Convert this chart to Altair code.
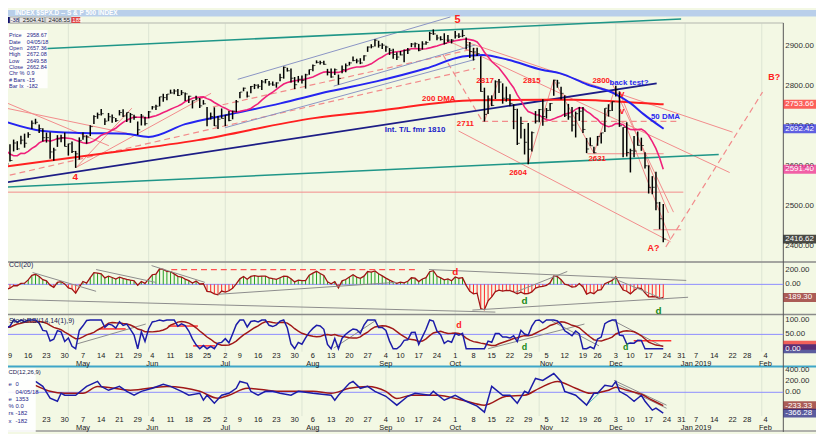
import altair as alt
import numpy as np
import pandas as pd

# ---------------- daily S&P 500 values (Feb 2018 .. 21 Dec 2018) ----------------
FEB_C = [2821.98, 2762.13, 2648.94, 2695.14, 2681.66, 2581.00, 2619.55, 2656.00, 2662.94, 2698.63, 2731.20, 2732.22, 2716.26, 2701.33, 2703.96, 2747.30, 2779.60, 2744.28, 2713.83]
FEB_H = [2837.75, 2808.92, 2763.39, 2701.04, 2727.67, 2685.27, 2638.67, 2672.61, 2668.84, 2702.10, 2731.51, 2754.42, 2739.14, 2747.75, 2731.26, 2747.76, 2780.64, 2789.15, 2761.52]
FEB_L = [2811.79, 2759.97, 2638.17, 2593.07, 2681.33, 2580.56, 2532.69, 2622.45, 2637.08, 2648.87, 2689.82, 2725.11, 2709.54, 2701.29, 2697.77, 2713.74, 2753.78, 2742.10, 2713.54]
MAR_C = [2677.67, 2691.25, 2720.94, 2728.12, 2726.80, 2738.97, 2786.57, 2783.02, 2765.31, 2749.48, 2747.33, 2752.01, 2712.92, 2716.94, 2711.93, 2643.69, 2588.26, 2658.55, 2612.62, 2605.00, 2640.87]
MAR_H = [2730.89, 2694.97, 2728.09, 2732.08, 2727.67, 2740.45, 2786.57, 2796.98, 2801.90, 2777.11, 2763.03, 2761.85, 2741.38, 2724.22, 2739.14, 2695.68, 2650.88, 2661.36, 2674.78, 2632.65, 2659.07]
MAR_L = [2659.65, 2647.49, 2675.75, 2711.26, 2701.02, 2722.65, 2751.54, 2779.26, 2758.68, 2744.38, 2741.47, 2749.97, 2694.59, 2710.05, 2709.79, 2641.59, 2585.89, 2601.81, 2596.12, 2593.06, 2609.72]
APR_C = [2581.88, 2614.45, 2644.69, 2662.84, 2604.47, 2613.16, 2656.87, 2642.19, 2663.99, 2656.30, 2677.84, 2706.39, 2708.64, 2693.13, 2670.14, 2670.29, 2634.56, 2639.40, 2666.94, 2669.91, 2648.05]
APR_H = [2638.30, 2619.14, 2649.86, 2672.08, 2656.88, 2653.55, 2665.45, 2661.43, 2674.72, 2680.26, 2683.55, 2713.34, 2717.49, 2702.84, 2693.94, 2682.86, 2683.55, 2645.30, 2676.48, 2677.35, 2682.92]
APR_L = [2553.80, 2575.49, 2573.61, 2649.58, 2586.27, 2610.79, 2635.78, 2639.25, 2653.83, 2645.05, 2670.01, 2692.05, 2703.63, 2681.90, 2660.61, 2657.99, 2617.32, 2612.67, 2647.16, 2659.01, 2648.04]
MAY_C = [2654.80, 2635.67, 2629.73, 2663.42, 2672.63, 2671.92, 2697.79, 2723.07, 2727.72, 2730.13, 2711.45, 2722.46, 2720.13, 2712.97, 2733.01, 2724.44, 2733.29, 2727.76, 2721.33, 2689.86, 2724.01, 2705.27]
MAY_H = [2655.27, 2660.87, 2637.14, 2670.93, 2683.35, 2676.34, 2701.27, 2726.11, 2732.86, 2742.10, 2718.59, 2731.96, 2728.09, 2719.50, 2739.19, 2741.09, 2733.33, 2731.97, 2727.36, 2710.67, 2729.34, 2722.50]
MAY_L = [2625.41, 2631.70, 2594.62, 2615.32, 2664.70, 2655.20, 2674.14, 2704.54, 2717.45, 2725.47, 2701.91, 2711.36, 2707.38, 2709.18, 2725.70, 2721.81, 2709.54, 2707.38, 2714.99, 2676.81, 2700.68, 2700.68]
JUN_C = [2734.62, 2746.87, 2748.80, 2772.35, 2770.37, 2779.03, 2782.00, 2786.85, 2775.63, 2782.49, 2779.66, 2773.75, 2762.59, 2767.32, 2749.76, 2754.88, 2717.07, 2723.06, 2699.63, 2716.31, 2718.37]
JUN_H = [2736.93, 2749.16, 2752.61, 2772.39, 2779.90, 2779.39, 2790.21, 2791.47, 2791.94, 2789.06, 2782.81, 2774.99, 2763.39, 2774.86, 2769.28, 2764.17, 2747.02, 2732.91, 2746.09, 2724.34, 2743.26]
JUN_L = [2718.70, 2740.54, 2739.51, 2748.46, 2760.16, 2763.59, 2780.17, 2778.78, 2774.65, 2776.52, 2761.73, 2757.12, 2743.27, 2763.91, 2744.39, 2752.68, 2698.67, 2715.60, 2699.38, 2691.99, 2718.03]
JUL_C = [2726.71, 2713.22, 2736.61, 2759.82, 2784.17, 2793.84, 2774.02, 2798.29, 2801.31, 2798.43, 2809.55, 2815.62, 2804.49, 2801.83, 2806.98, 2820.40, 2846.07, 2837.44, 2818.82, 2802.60, 2816.29]
JUL_H = [2727.26, 2736.58, 2737.83, 2764.41, 2784.65, 2795.58, 2785.91, 2799.22, 2804.53, 2803.91, 2814.19, 2816.76, 2812.05, 2810.85, 2808.61, 2829.99, 2848.03, 2844.91, 2843.17, 2821.74, 2824.46]
JUL_L = [2698.95, 2711.16, 2716.02, 2733.52, 2768.51, 2786.24, 2770.77, 2781.53, 2791.69, 2793.39, 2789.24, 2805.89, 2799.77, 2800.08, 2795.14, 2811.12, 2817.73, 2835.36, 2808.34, 2791.47, 2808.06]
AUG_C = [2813.36, 2827.22, 2840.35, 2850.40, 2858.45, 2857.70, 2853.58, 2833.28, 2821.93, 2839.96, 2818.37, 2840.69, 2850.13, 2857.05, 2862.96, 2861.82, 2856.98, 2874.69, 2896.74, 2897.52, 2914.04, 2901.13, 2901.52]
AUG_H = [2825.83, 2829.91, 2840.38, 2853.29, 2863.43, 2862.48, 2862.44, 2842.20, 2843.40, 2843.11, 2827.95, 2850.49, 2855.63, 2859.76, 2873.23, 2867.54, 2868.78, 2876.16, 2898.25, 2903.77, 2916.50, 2912.46, 2906.32]
AUG_L = [2805.85, 2792.84, 2827.37, 2835.98, 2855.92, 2853.09, 2852.56, 2825.81, 2819.88, 2826.58, 2802.49, 2831.44, 2833.73, 2850.62, 2861.32, 2856.05, 2854.03, 2862.35, 2884.69, 2893.50, 2898.40, 2895.22, 2891.73]
SEP_C = [2896.72, 2888.60, 2878.05, 2871.68, 2877.13, 2887.89, 2888.92, 2904.18, 2904.98, 2888.80, 2904.31, 2907.95, 2930.75, 2929.67, 2919.37, 2915.56, 2905.97, 2914.00, 2913.98]
SEP_H = [2900.18, 2894.21, 2892.52, 2883.81, 2886.93, 2890.74, 2894.65, 2906.76, 2908.30, 2904.65, 2911.17, 2911.17, 2934.80, 2940.91, 2927.22, 2923.79, 2931.15, 2927.11, 2916.54]
SEP_L = [2885.13, 2876.92, 2867.29, 2864.12, 2875.94, 2858.70, 2879.20, 2896.39, 2895.77, 2886.16, 2890.43, 2902.65, 2912.63, 2927.11, 2913.77, 2913.12, 2903.28, 2909.27, 2905.64]
OCT_C = [2924.59, 2923.43, 2925.51, 2901.61, 2885.57, 2884.43, 2880.34, 2785.68, 2728.37, 2767.13, 2750.79, 2809.92, 2809.21, 2768.78, 2767.78, 2755.88, 2740.69, 2656.10, 2705.57, 2658.69, 2641.25, 2682.63, 2711.74]
OCT_H = [2937.06, 2931.42, 2939.86, 2920.53, 2909.64, 2894.83, 2894.70, 2874.02, 2795.14, 2775.77, 2775.99, 2813.46, 2816.94, 2806.04, 2797.77, 2778.94, 2753.59, 2742.59, 2722.70, 2692.38, 2706.85, 2685.43, 2736.69]
OCT_L = [2917.91, 2919.37, 2921.36, 2891.14, 2869.29, 2862.99, 2874.27, 2784.86, 2710.51, 2729.44, 2749.03, 2766.91, 2781.81, 2755.18, 2760.27, 2749.22, 2691.43, 2651.89, 2667.84, 2628.16, 2603.54, 2635.34, 2705.60]
NOV_C = [2740.37, 2723.06, 2738.31, 2755.45, 2813.89, 2806.83, 2781.01, 2726.22, 2722.18, 2701.58, 2730.20, 2736.27, 2690.73, 2641.89, 2649.93, 2632.56, 2673.45, 2682.17, 2743.79, 2737.80, 2760.17]
NOV_H = [2741.67, 2766.28, 2744.27, 2756.55, 2815.15, 2814.75, 2797.58, 2775.99, 2754.60, 2746.80, 2735.38, 2746.75, 2746.82, 2669.44, 2670.73, 2647.55, 2674.35, 2682.53, 2743.79, 2753.75, 2760.88]
NOV_L = [2708.85, 2699.96, 2717.94, 2737.08, 2774.87, 2794.99, 2765.84, 2722.00, 2714.98, 2685.75, 2670.75, 2712.16, 2681.89, 2631.52, 2649.82, 2631.09, 2649.97, 2655.89, 2684.38, 2722.94, 2737.08]
DEC_C = [2790.37, 2700.06, 2695.95, 2633.08, 2637.72, 2636.78, 2651.07, 2650.54, 2599.95, 2545.94, 2546.16, 2506.96, 2467.42, 2416.62]
DEC_H = [2800.18, 2785.93, 2696.15, 2708.54, 2642.59, 2674.35, 2685.44, 2670.19, 2633.55, 2601.13, 2573.99, 2585.29, 2509.63, 2504.41]
DEC_L = [2773.38, 2697.18, 2621.53, 2623.14, 2583.23, 2621.30, 2650.26, 2637.27, 2593.31, 2530.54, 2528.71, 2488.96, 2441.18, 2408.55]

HOLIDAYS = ["2018-02-19", "2018-03-30", "2018-05-28", "2018-07-04", "2018-09-03",
            "2018-11-22", "2018-12-05", "2018-12-25", "2019-01-01", "2019-01-21"]

# moving averages (trading-day index from 9 Apr 2018, value)
MA50_D = [-1.9, 9.0, 19.8, 31.7, 38.0, 48.0, 60.5, 74.1, 87.6, 100.4, 113.9, 124.0, 129.4, 136.5, 145.7, 150.8, 158.2, 165.5, 170.1, 173.6, 179.1]
MA50_V = [2712, 2687, 2682, 2680, 2672, 2704, 2729, 2756, 2786, 2811, 2843, 2873, 2877, 2865, 2840, 2831, 2803, 2781, 2756, 2729, 2692.4]
MA200_D = [-2.7, 25, 51.5, 83.3, 100.4, 127.5, 154.6, 178.2, 179.1]
MA200_V = [2596, 2630, 2664, 2719, 2737, 2764, 2765, 2754, 2753.7]

# MACD panel
MACD_D = [7, 9, 11, 13, 14, 15, 17, 18, 21, 24, 25, 27, 30, 32, 34, 36, 39, 42, 44, 47, 49, 52, 53, 54, 56, 58, 60, 62, 63, 65, 66, 68, 70, 72, 74, 77, 79, 83, 88, 89, 90, 93, 94, 96, 98, 100, 103, 106, 109, 111, 115, 116, 119, 122, 125, 128, 130, 132, 135, 137, 139, 141, 142, 144, 146, 149, 151, 152, 155, 158, 160, 161, 163, 165, 166, 167, 169, 171, 173, 174, 176, 177, 179]
MACD_V = [191, 104, -104, -157, -17, -52, -52, -52, 104, 191, 104, 35, 104, 17, -52, 17, 70, 139, 104, 17, -52, -17, -139, -52, -191, -52, -17, 70, 191, 157, 17, -52, 17, 17, -17, -52, 17, -17, -52, -139, -52, 157, 191, 70, 104, 17, -70, -226, -70, -17, -52, 17, -139, -52, -157, -243, -348, 104, -52, -52, -191, 17, -17, 243, 209, 330, 191, 17, -52, -226, -17, -17, 122, 104, 191, 17, -52, -157, -52, -157, -313, -278, -366.3]
SIG_D = [7, 11, 15, 20, 24, 33, 43, 52, 57, 60, 65, 74, 83, 88, 93, 98, 103, 106, 110, 117, 124, 130, 136, 141, 145, 150, 155, 159, 164, 166, 169, 173, 176, 179]
SIG_V = [122, 17, -17, -17, 104, 35, 104, 17, -104, -52, 70, 17, 17, -17, 70, 104, 17, -110, -52, -52, -139, -226, -70, -52, 70, 191, 70, -17, 35, 87, 35, -35, -139, -233.3]

# hand-drawn trend lines: (day1, value1, day2, value2)
TEAL = [(9.0, 2892.6, 183.9, 2966.8), (-2.7, 2546, 194.2, 2628)]
NAVY = [(-2.7, 2556, 177.2, 2806)]
RED_SOLID = [(-2.7, 2764, 27.1, 2650), (-2.7, 2747, 35.3, 2675), (18.2, 2596, 33.4, 2744),
             (18.2, 2596, 55.1, 2781), (124.8, 2910, 198.0, 2684), (119.4, 2915, 197.2, 2583),
             (164.7, 2811, 181.8, 2484), (167.7, 2769, 180.4, 2482), (169, 2695, 181, 2415),
             (122.9, 2687, 181.0, 2410), (-2.7, 2534, 184.5, 2534), (158.2, 2630, 179.1, 2630),
             (176.3, 2440, 183.9, 2440), (130, 2711, 134, 2817), (142, 2604, 149, 2815),
             (149, 2815, 160, 2631), (160, 2631, 166, 2800)]
RED_DASH = [(-2.7, 2571, 127.5, 2843), (55.6, 2747, 127.5, 2893), (129.4, 2711, 183.4, 2711),
            (179.7, 2397, 206.2, 2784), (118.6, 2878, 129.4, 2712)]
GREY_BLUE = [(62.4, 2816, 120.7, 2972), (88.7, 2799, 127.5, 2902), (58.9, 2695, 127.5, 2866)]
CCI_LINES = [(-2.7, -214, 133, -400), (57, -143, 105.8, 29), (126.7, -371, 185.8, -186),
             (114.8, 214, 185.3, 57), (6.2, 171, 23.6, -100), (23.6, 214, 39.9, 29),
             (38.8, 271, 53.4, 29), (138.4, -114, 152.7, 186), (164.7, 100, 179.1, -214)]
CCI_DASH = [(44.2, 214, 111.2, 214)]
STOCH_LINES = [(18.4, 17, 37.2, 86), (148.4, 97, 161.4, 10), (165, 100, 179, 7),
               (131, 0, 157.4, 86), (88.7, 2, 100.4, 100)]
STOCH_RED = [(24.4, 69, 31.7, 69), (43.4, 79, 51.5, 79), (50.2, 10, 56.2, 10), (170.9, 28, 181.2, 28)]
MACD_LINES = [(165.5, 209, 179.9, -226), (165.5, 170, 179.9, -280)]
MACD_TEAL = [(158, -226, 162, 17)]

PRICE_NOTES = [("5", 122.6, 2964, "#ff2020", 11), ("4", 17.9, 2573, "#ff2020", 10),
               ("2817", 130.2, 2811, "#ff2020", 8), ("2815", 143.0, 2811, "#ff2020", 8),
               ("2800", 162.0, 2811, "#ff2020", 8), ("2711", 124.8, 2704, "#ff2020", 8),
               ("2604", 139.2, 2583, "#ff2020", 8), ("2631", 160.9, 2618, "#ff2020", 8),
               ("A?", 176.3, 2395, "#ff2020", 9), ("B?", 209.4, 2823, "#ff2020", 9),
               ("v", 167.7, 2779, "#ff2020", 9), ("v", 167.7, 2737, "#ff2020", 9),
               ("200 DMA", 117.5, 2766, "#ff2020", 8), ("back test?", 169.6, 2806, "#2a2af0", 8),
               ("50 DMA", 179.6, 2722, "#2a2af0", 8), ("Int. T/L fmr 1810", 111.0, 2690, "#1c1cc8", 8)]
CCI_NOTES = [("d", 122, 171, "#ff2020"), ("d", 141, -243, "#1a8a1a"), ("d", 177.7, -386, "#1a8a1a")]
STOCH_NOTES = [("d", 123, 83, "#ff2020"), ("d", 141, 5, "#1a8a1a"), ("d", 168.7, 5, "#1a8a1a")]

PRICE_TICKS = [2900, 2800, 2700, 2600, 2500, 2400]
PRICE_BOXES = [(2753.66, "#ff1f1f"), (2692.42, "#2020e0"), (2591.40, "#f0208c"), (2416.62, "#000000")]
CCI_TICKS = [200, 0]
CCI_BOXES = [(-189.30, "#8b1a1a")]
STOCH_TICKS = [100, 50]
STOCH_RED_BOX = [12]
STOCH_BOXES = [(0, "#1a1a80")]
MACD_TICKS = [400, 200, 0]
MACD_BOXES = [(-233.33, "#8b1a1a"), (-366.28, "#1a1a80")]

INFO_LABELS = ["Price", "Date", "Open", "High", "Low", "Close", "Chr %", "# Bars", "Bar Ix"]
INFO_VALUES = ["2958.67", "04/05/18", "2657.36", "2672.08", "2649.58", "2662.84", "0.9", "-15", "-182"]
MACD_INFO_LABELS = ["e", "", "e", "%", "rs", "x"]
MACD_INFO_VALUES = ["0", "04/05/18", "1353", "0.0", "-182", "-182"]

# ---------------- build tables ----------------
CLOSE = FEB_C + MAR_C + APR_C + MAY_C + JUN_C + JUL_C + AUG_C + SEP_C + OCT_C + NOV_C + DEC_C
HIGH = FEB_H + MAR_H + APR_H + MAY_H + JUN_H + JUL_H + AUG_H + SEP_H + OCT_H + NOV_H + DEC_H
LOW = FEB_L + MAR_L + APR_L + MAY_L + JUN_L + JUL_L + AUG_L + SEP_L + OCT_L + NOV_L + DEC_L

days = pd.bdate_range("2018-02-01", "2019-02-08")
days = days[~days.isin(pd.to_datetime(HOLIDAYS))]
origin = int(np.where(days == pd.Timestamp("2018-04-09"))[0][0])
n = len(CLOSE)
px = pd.DataFrame({"date": days[:n], "d": np.arange(n) - origin, "c": CLOSE, "h": HIGH, "l": LOW})

tp = (px.h + px.l + px.c) / 3
sma_tp = tp.rolling(20).mean()
mad = tp.rolling(20).apply(lambda a: np.abs(a - a.mean()).mean(), raw=True)
px["cci"] = (tp - sma_tp) / (0.015 * mad)
px["sma13"] = px.c.rolling(13).mean()
delta = px.c.diff()
up = delta.clip(lower=0)
dn = (-delta).clip(lower=0)
rs = up.ewm(alpha=1 / 14, adjust=False).mean() / dn.ewm(alpha=1 / 14, adjust=False).mean()
rsi = 100 - 100 / (1 + rs)
lo, hi = rsi.rolling(14).min(), rsi.rolling(14).max()
px["k"] = (rsi - lo) / (hi - lo) * 100
px["kd"] = px.k.rolling(9).mean()
vis = px[px.d >= -1].copy()
vis["z"] = 0.0
vis["col"] = np.where(vis.cci >= 0, "#1f9e1f", "#ff2424")
vis = vis.drop(columns=["date"])

cal = pd.DataFrame({"date": days, "d": np.arange(len(days)) - origin})
cal = cal[cal.d >= 0]
wk = cal.groupby(cal.date.dt.to_period("W")).first().reset_index(drop=True)
wk = wk[wk.d <= 208].copy()
wk["lab"] = wk.date.dt.day.astype(str)
mon = wk.date.dt.month
wkm = wk[mon != mon.shift(1)].iloc[1:].copy()
wkm["lab"] = [dt.strftime("%b") + (" 2019" if dt.year == 2019 and dt.month == 1 else "") for dt in wkm.date]
ms = cal.groupby(cal.date.dt.to_period("M")).first().reset_index(drop=True).iloc[1:]
wk = wk.drop(columns=["date"])
wkm = wkm.drop(columns=["date"])
ms = ms.drop(columns=["date"])
wk_macd = wk[wk.d >= 10]   # the first two labels sit under the MACD info box

# ---------------- scales ----------------
XS = alt.Scale(domain=[-0.54, 211.9], range=[0, 783], nice=False, zero=False)
PS = ([2400, 2900], [238, 36])
CS = ([0, 200], [277, 263])
SS = ([0, 100], [342, 313])
MS = ([0, 200], [386, 374.5])
FONT = "Liberation Sans"


def X(f="d"):
    return alt.X(f, type="quantitative", scale=XS, axis=None)


def Y(f, s):
    return alt.Y(f, type="quantitative", axis=None,
                 scale=alt.Scale(domain=s[0], range=s[1], nice=False, zero=False))


def segs(rows, s, color, width=1.0, dash=None):
    df = pd.DataFrame(rows, columns=["d1", "v1", "d2", "v2"])
    kw = dict(color=color, strokeWidth=width)
    if dash:
        kw["strokeDash"] = dash
    return alt.Chart(df).mark_rule(**kw).encode(x=X("d1"), x2=alt.X2("d2"), y=Y("v1", s), y2=alt.Y2("v2"))


def hline(value, s, color, width=1.0):
    df = pd.DataFrame({"v": [value]})
    return alt.Chart(df).mark_rule(color=color, strokeWidth=width).encode(
        x=alt.value(0), x2=alt.value(783), y=Y("v", s))


def pix_rule(y, color, width=1.0, x0=0, x1=783):
    return alt.Chart(pd.DataFrame({"a": [0]})).mark_rule(color=color, strokeWidth=width).encode(
        x=alt.value(x0), x2=alt.value(x1), y=alt.value(y))


def pix_rect(x0, x1, y0, y1, color, opacity=1.0, stroke=None):
    kw = dict(color=color, opacity=opacity)
    if stroke:
        kw.update(stroke=stroke, strokeWidth=0.6)
    return alt.Chart(pd.DataFrame({"a": [0]})).mark_rect(**kw).encode(
        x=alt.value(x0), x2=alt.value(x1), y=alt.value(y0), y2=alt.value(y1))


def pix_text(t, x, y, size=7, color="#202080", align="left", weight="normal"):
    return alt.Chart(pd.DataFrame({"t": [t]})).mark_text(
        font=FONT, fontSize=size, color=color, align=align, baseline="middle", fontWeight=weight
    ).encode(x=alt.value(x), y=alt.value(y), text="t:N")


def tick_labels(ticks, s):
    df = pd.DataFrame({"v": ticks, "t": [f"{t:.2f}" for t in ticks]})
    return alt.Chart(df).mark_text(font=FONT, fontSize=8, color="#303030", align="left", baseline="middle").encode(
        x=alt.value(785), y=Y("v", s), text="t:N")


def box_shapes(values, colors, s):
    df = pd.DataFrame({"v": values, "col": colors})
    return alt.Chart(df).mark_tick(orient="horizontal", size=33, thickness=9).encode(
        x=alt.value(799.5), y=Y("v", s), color=alt.Color("col:N", scale=None))


def boxes(rows, s):
    df = pd.DataFrame(rows, columns=["v", "col"])
    df["t"] = [f"{v:.2f}" for v in df.v]
    b = box_shapes(list(df.v), list(df.col), s)
    t = alt.Chart(df).mark_text(font=FONT, fontSize=8, color="white", align="left", baseline="middle").encode(
        x=alt.value(785), y=Y("v", s), text="t:N")
    return [b, t]


def notes(rows, s, bold=True):
    df = pd.DataFrame(rows, columns=["t", "d", "v", "col", "fs"])
    layers = []
    for fs, g in df.groupby("fs"):
        layers.append(alt.Chart(g).mark_text(font=FONT, fontSize=int(fs), fontWeight="bold" if bold else "normal",
                                             align="center", baseline="middle").encode(
            x=X("d"), y=Y("v", s), text="t:N", color=alt.Color("col:N", scale=None)))
    return layers


L = []
# background strips / frame
L.append(pix_rect(0, 816, 0, 6.5, "#b9cfea"))
L.append(pix_text("INDEX $SPX.D -- S & P 500 INDEX", 7, 3.2, size=6.5, color="#ffffff", weight="bold"))
L.append(alt.Chart(ms).mark_rule(color="#dde5d3", strokeWidth=1).encode(x=X("d"), y=alt.value(13), y2=alt.value(345)))
L.append(alt.Chart(ms).mark_rule(color="#dde5d3", strokeWidth=1).encode(x=X("d"), y=alt.value(361), y2=alt.value(410)))
L.append(pix_rule(13, "#c8ccc0", 1.5, 0, 783))
L.append(pix_rule(254.5, "#8a8a8a", 1.5, 0, 816))
L.append(pix_rule(307.5, "#8a8a8a", 1.5, 0, 816))
L.append(pix_rule(360, "#3ea6c8", 2, 0, 816))
L.append(pix_rule(425, "#9a9a9a", 1.5, 0, 816))
L.append(alt.Chart(pd.DataFrame({"a": [0]})).mark_rule(color="#555555", strokeWidth=1).encode(
    x=alt.value(783), y=alt.value(13), y2=alt.value(426)))

# ---- price panel
L.append(segs(RED_SOLID, PS, "#f28b8b", 1.0))
L.append(segs(RED_DASH, PS, "#f28b8b", 1.2, [6, 4]))
L.append(segs(GREY_BLUE, PS, "#8a94c4", 1.0))
L.append(segs(TEAL, PS, "#1f9688", 1.6))
L.append(segs(NAVY, PS, "#1d1d86", 1.8))
ma200 = pd.DataFrame({"d": MA200_D, "v": MA200_V})
L.append(alt.Chart(ma200).mark_line(color="#ff2020", strokeWidth=2, interpolate="monotone").encode(x=X("d"), y=Y("v", PS)))
ma50 = pd.DataFrame({"d": MA50_D, "v": MA50_V})
L.append(alt.Chart(ma50).mark_line(color="#2424f0", strokeWidth=2, interpolate="monotone").encode(x=X("d"), y=Y("v", PS)))
L.append(alt.Chart(vis).mark_line(color="#f0207a", strokeWidth=1.6).encode(x=X("d"), y=Y("sma13", PS)))
L.append(alt.Chart(vis).mark_rule(color="#000000", strokeWidth=1.5).encode(x=X("d"), y=Y("l", PS), y2=alt.Y2("h")))
L.append(alt.Chart(vis).mark_tick(orient="horizontal", size=2.5, thickness=1, color="#000000", xOffset=1.3).encode(
    x=X("d"), y=Y("c", PS)))
L += notes(PRICE_NOTES, PS)
L.append(tick_labels(PRICE_TICKS, PS))
L += boxes(PRICE_BOXES, PS)

# toolbar & info box
L.append(pix_rect(0, 2, 7, 13, "#101070"))
L.append(pix_rect(2, 11, 7, 13, "#f0f0f0", stroke="#888888"))
L.append(pix_text("-38", 2.5, 10.2, size=6, color="#202060"))
L.append(pix_rect(11.5, 37, 7, 13, "#e6e6e6", stroke="#888888"))
L.append(pix_text("2504.41", 15, 10.2, size=6, color="#202020"))
L.append(pix_rect(38, 64, 7, 13, "#e6e6e6", stroke="#888888"))
L.append(pix_text("2408.55", 41, 10.2, size=6, color="#202020"))
L.append(pix_rect(64, 73, 7, 13, "#e04040"))
L.append(pix_text("185", 65, 10.2, size=6, color="#ffffff"))
L.append(pix_rect(0, 40, 20, 79, "#ffffff", opacity=0.85))
info = pd.DataFrame({"lab": INFO_LABELS, "val": INFO_VALUES, "i": range(len(INFO_LABELS))})
info["y"] = 25.5 + info.i * 6.4
L.append(alt.Chart(info).mark_text(font=FONT, fontSize=5.6, color="#26268a", align="left", baseline="middle").encode(
    x=alt.value(1), y=alt.Y("y:Q", scale=None), text="lab:N"))
L.append(alt.Chart(info).mark_text(font=FONT, fontSize=5.6, color="#26268a", align="left", baseline="middle").encode(
    x=alt.value(19), y=alt.Y("y:Q", scale=None), text="val:N"))

# ---- CCI panel
L.append(hline(0, CS, "#8c8cff", 1))
L.append(alt.Chart(vis).mark_rule(strokeWidth=1).encode(
    x=X("d"), y=Y("cci", CS), y2=alt.Y2("z"), color=alt.Color("col:N", scale=None)))
L.append(alt.Chart(vis).mark_line(color="#a01414", strokeWidth=1.3).encode(x=X("d"), y=Y("cci", CS)))
L.append(segs(CCI_LINES, CS, "#8c8c8c", 1.0))
L.append(segs(CCI_DASH, CS, "#ff5050", 1.3, [6, 4]))
L += notes([r + (10,) for r in CCI_NOTES], CS)
L.append(pix_text("CCI(20)", 1, 257.5, size=7, color="#202050"))
L.append(tick_labels(CCI_TICKS, CS))
L += boxes(CCI_BOXES, CS)

# ---- Stoch panel
L.append(hline(50, SS, "#8c8cff", 1))
L.append(segs(STOCH_LINES, SS, "#8c8c8c", 1.0))
L.append(segs(STOCH_RED, SS, "#ff3030", 1.5))
L.append(alt.Chart(vis).mark_line(color="#a01818", strokeWidth=1.5).encode(x=X("d"), y=Y("kd", SS)))
L.append(alt.Chart(vis).mark_line(color="#1c1ca8", strokeWidth=1.5).encode(x=X("d"), y=Y("k", SS)))
L += notes([r + (9,) for r in STOCH_NOTES], SS)
L.append(pix_text("StochRSI(14,14(1),9)", 1, 314, size=7, color="#202050"))
L.append(tick_labels(STOCH_TICKS, SS))
L.append(box_shapes(STOCH_RED_BOX, ["#ee2020"], SS))
L += boxes(STOCH_BOXES, SS)
L.append(alt.Chart(wk).mark_text(font=FONT, fontSize=7.5, color="#202020", baseline="middle").encode(
    x=X("d"), y=alt.value(349.5), text="lab:N"))
L.append(alt.Chart(wkm).mark_text(font=FONT, fontSize=7.5, color="#202020", baseline="middle").encode(
    x=X("d"), y=alt.value(357.5), text="lab:N"))

# ---- MACD panel
L.append(hline(0, MS, "#8c8cff", 1))
L.append(segs(MACD_LINES, MS, "#8c8c8c", 1.0))
L.append(segs(MACD_TEAL, MS, "#60c0c0", 1.0))
sig = pd.DataFrame({"d": SIG_D, "v": SIG_V})
L.append(alt.Chart(sig).mark_line(color="#a01818", strokeWidth=1.5, interpolate="monotone").encode(x=X("d"), y=Y("v", MS)))
macd = pd.DataFrame({"d": MACD_D, "v": MACD_V})
L.append(alt.Chart(macd).mark_line(color="#1c1ca8", strokeWidth=1.5).encode(x=X("d"), y=Y("v", MS)))
L.append(tick_labels(MACD_TICKS, MS))
L += boxes(MACD_BOXES, MS)
L.append(alt.Chart(wk_macd).mark_text(font=FONT, fontSize=7.5, color="#202020", baseline="middle").encode(
    x=X("d"), y=alt.value(414), text="lab:N"))
L.append(alt.Chart(wkm).mark_text(font=FONT, fontSize=7.5, color="#202020", baseline="middle").encode(
    x=X("d"), y=alt.value(422), text="lab:N"))
L.append(pix_rect(0, 28, 362, 426, "#ffffff", opacity=0.9))
L.append(pix_text("CD(12,26,9)", 0.5, 365.5, size=6, color="#202050"))
mi = pd.DataFrame({"lab": MACD_INFO_LABELS, "val": MACD_INFO_VALUES, "i": range(len(MACD_INFO_LABELS))})
mi["y"] = 378 + mi.i * 7.3
L.append(alt.Chart(mi).mark_text(font=FONT, fontSize=6, color="#26268a", align="left", baseline="middle").encode(
    x=alt.value(0.5), y=alt.Y("y:Q", scale=None), text="lab:N"))
L.append(alt.Chart(mi).mark_text(font=FONT, fontSize=6, color="#26268a", align="left", baseline="middle").encode(
    x=alt.value(7.5), y=alt.Y("y:Q", scale=None), text="val:N"))

chart = alt.layer(*L).resolve_scale(y="independent").properties(
    width=816, height=426, autosize=alt.AutoSizeParams(type="none"), padding=0, background="#f3f8e4"
).configure_view(stroke=None)

chart.save("out.html", embed_options={"renderer": "svg", "actions": False})
